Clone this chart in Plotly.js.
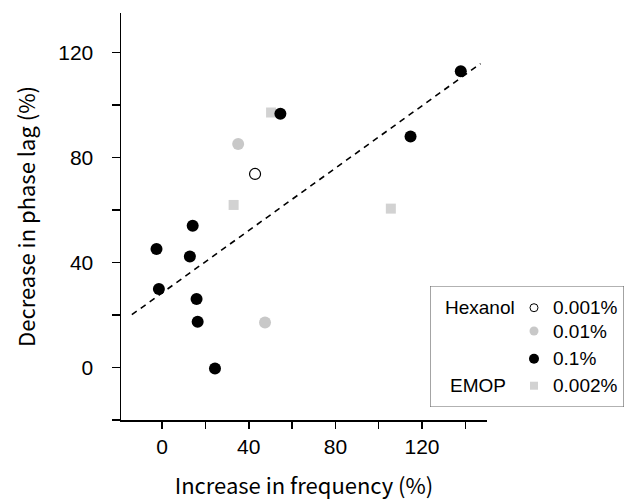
<!DOCTYPE html>
<html>
<head>
<meta charset="utf-8">
<script src="https://cdn.plot.ly/plotly-3.0.1.min.js"></script>
<style>html,body{margin:0;padding:0;background:#fff;}#chart{width:628px;height:502px;}</style>
</head>
<body>
<div id="chart"></div>
<script>
// ---- data ----
const hex001X = [42.9];
const hex001Y = [73.7];
const hex01X = [35.1, 47.5];
const hex01Y = [85.1, 17.1];
const hex1X = [137.9, 54.6, 114.7, 14.1, -2.6, 12.8, -1.5, 15.9, 16.4, 24.4];
const hex1Y = [112.8, 96.6, 88.0, 54.0, 45.1, 42.3, 29.9, 26.1, 17.4, -0.4];
const emopX = [50.3, 33.0, 105.6];
const emopY = [97.1, 61.9, 60.5];
const fitX = [-14, 147];
const fitY = [20.1, 115.7];
const xTickVals = [-20, 0, 20, 40, 60, 80, 100, 120, 140];
const xTickText = ["", "0", "", "40", "", "80", "", "120", ""];
const yTickVals = [-20, 0, 20, 40, 60, 80, 100, 120];
const yTickText = ["", "0", "", "40", "", "80", "", "120"];
const legendGroupLabels = ["Hexanol", "EMOP"];
const legendLabels = ["0.001%", "0.01%", "0.1%", "0.002%"];

// ---- styles ----
const GRAY_C = "#c8c8c8";
const GRAY_S = "#d2d2d2";
const numFont = "Liberation Sans, Arial, sans-serif";
const titleFont = "Noto Sans CJK JP, sans-serif";

const traces = [
  {x: fitX, y: fitY, mode: "lines", line: {color: "#000", width: 1.6, dash: "6px,5px"}, hoverinfo: "skip"},
  {x: emopX, y: emopY, mode: "markers", marker: {symbol: "square", size: 10, color: GRAY_S}},
  {x: hex01X, y: hex01Y, mode: "markers", marker: {symbol: "circle", size: 12, color: GRAY_C}},
  {x: hex1X, y: hex1Y, mode: "markers", marker: {symbol: "circle", size: 12, color: "#000"}},
  {x: hex001X, y: hex001Y, mode: "markers", marker: {symbol: "circle-open", size: 11, color: "#000", line: {width: 1.2}}},
];

// legend drawn in its own small pixel-like coordinate frame
const legRowY = [307.7, 331, 358.7, 385.7];
const legMarkX = 534;
const legTextX = 551;
traces.push(
  {x: [legMarkX], y: [legRowY[0]], xaxis: "x2", yaxis: "y2", mode: "markers", marker: {symbol: "circle-open", size: 8, color: "#000", line: {width: 1}}},
  {x: [legMarkX], y: [legRowY[1]], xaxis: "x2", yaxis: "y2", mode: "markers", marker: {symbol: "circle", size: 9, color: GRAY_C}},
  {x: [legMarkX], y: [legRowY[2]], xaxis: "x2", yaxis: "y2", mode: "markers", marker: {symbol: "circle", size: 10, color: "#000"}},
  {x: [legMarkX], y: [legRowY[3]], xaxis: "x2", yaxis: "y2", mode: "markers", marker: {symbol: "square", size: 8, color: GRAY_S}}
);

const annotations = [];
legendLabels.forEach((t, i) => annotations.push({
  xref: "x2", yref: "y2", x: legTextX, y: legRowY[i], text: t, showarrow: false,
  xanchor: "left", yanchor: "middle", font: {family: numFont, size: 19, color: "#000"}
}));
annotations.push({xref: "x2", yref: "y2", x: 480, y: legRowY[0], text: legendGroupLabels[0], showarrow: false,
  xanchor: "center", yanchor: "middle", font: {family: numFont, size: 19, color: "#000"}});
annotations.push({xref: "x2", yref: "y2", x: 478, y: legRowY[3], text: legendGroupLabels[1], showarrow: false,
  xanchor: "center", yanchor: "middle", font: {family: numFont, size: 19, color: "#000"}});

const layout = {
  width: 628, height: 502,
  margin: {l: 121, r: 4, t: 13, b: 82},
  paper_bgcolor: "#fff", plot_bgcolor: "#fff",
  showlegend: false,
  xaxis: {
    domain: [0, 0.7276], range: [-19, 150], showgrid: false, zeroline: false,
    showline: true, linecolor: "#000", linewidth: 1.5,
    ticks: "outside", ticklen: 7, tickwidth: 1.5, tickcolor: "#000",
    tickmode: "array", tickvals: xTickVals, ticktext: xTickText,
    tickfont: {family: numFont, size: 21, color: "#000"},
    title: {text: "Increase in frequency (%)", font: {family: titleFont, size: 22, color: "#000"}, standoff: 22}
  },
  yaxis: {
    range: [-20, 135], showgrid: false, zeroline: false,
    showline: true, linecolor: "#000", linewidth: 1.5,
    ticks: "outside", ticklen: 8, tickwidth: 1.5, tickcolor: "#000",
    tickmode: "array", tickvals: yTickVals, ticktext: yTickText,
    tickfont: {family: numFont, size: 21, color: "#000"},
    ticklabelstandoff: 14,
    title: {text: "Decrease in phase lag (%)", font: {family: titleFont, size: 22, color: "#000"}, standoff: 16}
  },
  xaxis2: {domain: [0.6143, 1.0], range: [430, 624], anchor: "y2", visible: false, fixedrange: true},
  yaxis2: {domain: [0.0319, 0.3292], range: [407, 286], anchor: "x2", visible: false, fixedrange: true},
  shapes: [{type: "rect", xref: "x2", yref: "y2", x0: 430, x1: 624, y0: 286, y1: 407,
    line: {color: "#666", width: 1.2}, fillcolor: "rgba(255,255,255,1)", layer: "below"}],
  annotations: annotations
};

Plotly.newPlot("chart", traces, layout, {displayModeBar: false, staticPlot: true});
</script>
</body>
</html>
